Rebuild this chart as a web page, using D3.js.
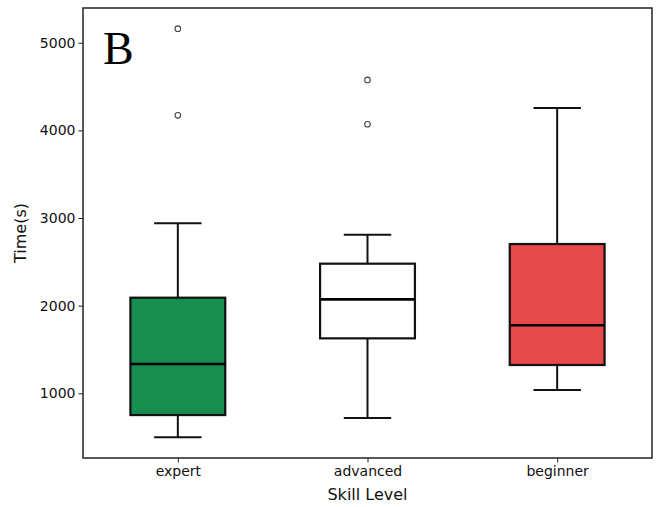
<!DOCTYPE html>
<html>
<head>
<meta charset="utf-8">
<script src="https://cdn.jsdelivr.net/npm/d3@7"></script>
<style>
  html, body { margin: 0; padding: 0; background: #fff; }
  svg { display: block; }
</style>
</head>
<body>
<svg id="chart" width="656" height="507"></svg>
<script>
// ---- data ----
const categories   = ["expert", "advanced", "beginner"];
const whiskerLow   = [500, 718, 1038];
const q1           = [752, 1627, 1323];
const median       = [1334, 2072, 1776];
const q3           = [2091, 2479, 2703];
const whiskerHigh  = [2940, 2810, 4255];
const outliers     = [[5160, 4172], [4575, 4070], []];
const yTicks       = [1000, 2000, 3000, 4000, 5000];
const fillColors   = ["#178e50", "#ffffff", "#e54949"];

// ---- layout ----
const svg = d3.select("#chart");
const L = 83, R = 652, T = 8, B = 458;

const x = d3.scalePoint().domain(categories).range([L, R]).padding(0.5);
const y = d3.scaleLinear().domain([262, 5396]).range([B, T]);
const step = x.step();
const boxW = step * 0.5;
const capW = boxW * 0.5;

// axes
const yAxis = d3.axisLeft(y).tickValues(yTicks).tickSize(4.5).tickPadding(3).tickFormat(d3.format("d"));
const gy = svg.append("g").attr("transform", `translate(${L},0)`).call(yAxis);
const xAxis = d3.axisBottom(x).tickSize(4.5).tickPadding(4);
const gx = svg.append("g").attr("transform", `translate(0,${B})`).call(xAxis);
[gx, gy].forEach(g => {
  g.select(".domain").remove();
  g.selectAll(".tick line").attr("stroke", "#222").attr("stroke-width", 1);
  g.selectAll(".tick text").attr("fill", "#111")
    .style("font-family", "'DejaVu Sans', sans-serif").style("font-size", "14px");
});

// boxes
const data = categories.map((c, i) => ({
  c, lo: whiskerLow[i], q1: q1[i], med: median[i], q3: q3[i], hi: whiskerHigh[i],
  out: outliers[i], fill: fillColors[i]
}));

const g = svg.append("g");
data.forEach(d => {
  const cx = x(d.c);
  // whiskers
  g.append("line").attr("x1", cx).attr("x2", cx).attr("y1", y(d.q3)).attr("y2", y(d.hi))
    .attr("stroke", "#111").attr("stroke-width", 2);
  g.append("line").attr("x1", cx).attr("x2", cx).attr("y1", y(d.q1)).attr("y2", y(d.lo))
    .attr("stroke", "#111").attr("stroke-width", 2);
  // caps
  g.append("line").attr("x1", cx - capW / 2).attr("x2", cx + capW / 2).attr("y1", y(d.hi)).attr("y2", y(d.hi))
    .attr("stroke", "#111").attr("stroke-width", 2);
  g.append("line").attr("x1", cx - capW / 2).attr("x2", cx + capW / 2).attr("y1", y(d.lo)).attr("y2", y(d.lo))
    .attr("stroke", "#111").attr("stroke-width", 2);
  // box
  g.append("rect").attr("x", cx - boxW / 2).attr("width", boxW)
    .attr("y", y(d.q3)).attr("height", y(d.q1) - y(d.q3))
    .attr("fill", d.fill).attr("stroke", "#111").attr("stroke-width", 2.2);
  // median
  g.append("line").attr("x1", cx - boxW / 2).attr("x2", cx + boxW / 2).attr("y1", y(d.med)).attr("y2", y(d.med))
    .attr("stroke", "#000").attr("stroke-width", 2.6);
  // outliers
  g.selectAll(null).data(d.out).enter().append("circle")
    .attr("cx", cx).attr("cy", v => y(v)).attr("r", 2.8)
    .attr("fill", "none").attr("stroke", "#444").attr("stroke-width", 1.1);
});

// frame
svg.append("rect").attr("x", L).attr("y", T).attr("width", R - L).attr("height", B - T)
  .attr("fill", "none").attr("stroke", "#222").attr("stroke-width", 1.5);

// labels
svg.append("text").attr("x", (L + R) / 2).attr("y", 500).attr("text-anchor", "middle")
  .style("font-family", "'DejaVu Sans', sans-serif").style("font-size", "16px").attr("fill", "#111")
  .text("Skill Level");
svg.append("text").attr("transform", `translate(26,${(T + B) / 2}) rotate(-90)`).attr("text-anchor", "middle")
  .style("font-family", "'DejaVu Sans', sans-serif").style("font-size", "16px").attr("fill", "#111")
  .text("Time(s)");
svg.append("text").attr("x", 103).attr("y", 64)
  .style("font-family", "'Liberation Serif', 'Times New Roman', serif").style("font-size", "46px").attr("fill", "#000")
  .text("B");
</script>
</body>
</html>
